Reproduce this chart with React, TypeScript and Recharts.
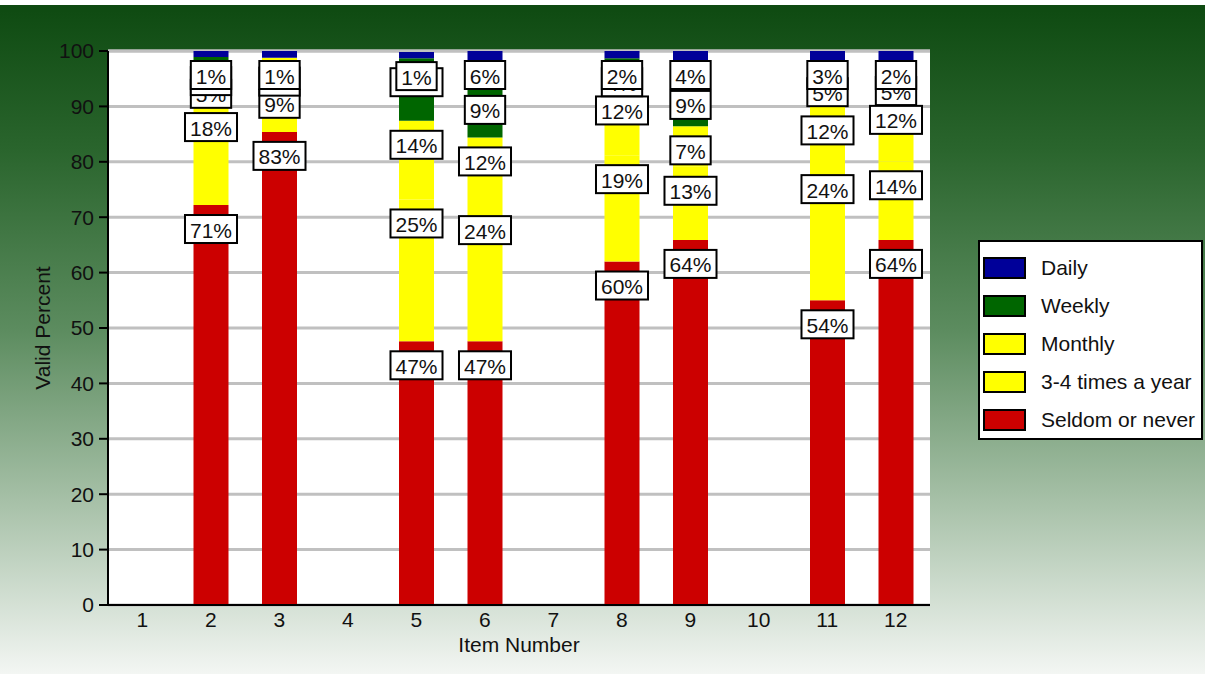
import { BarChart, Bar, XAxis, YAxis, CartesianGrid, Legend, LabelList, Label } from "recharts";

const items = ["1", "2", "3", "4", "5", "6", "7", "8", "9", "10", "11", "12"];

// segment heights (valid percent), bottom to top
const seldom = [0, 72.2, 85.4, 0, 47.6, 47.6, 0, 62, 65.9, 0, 55, 65.9];
const threeFour = [0, 18.4, 9.4, 0, 25.6, 24.4, 0, 19.2, 13.2, 0, 24.4, 14.2];
const monthly = [0, 6, 4, 0, 14.2, 12.4, 0, 12.4, 7.3, 0, 10.6, 11.8];
const weekly = [0, 2.3, 0, 0, 11.3, 9.3, 0, 5.1, 8.2, 0, 6.9, 5.2];
const daily = [0, 1.1, 1.2, 0, 1.1, 6.3, 0, 1.3, 5.4, 0, 3.1, 2.9];

// the printed labels
const seldomLbl = ["", "71%", "83%", "", "47%", "47%", "", "60%", "64%", "", "54%", "64%"];
const threeFourLbl = ["", "18%", "9%", "", "25%", "24%", "", "19%", "13%", "", "24%", "14%"];
const monthlyLbl = ["", "5%", "4%", "", "14%", "12%", "", "12%", "7%", "", "12%", "12%"];
const weeklyLbl = ["", "2%", "", "", "11%", "9%", "", "4%", "9%", "", "5%", "5%"];
const dailyLbl = ["", "1%", "1%", "", "1%", "6%", "", "2%", "4%", "", "3%", "2%"];

const yTicks = [0, 10, 20, 30, 40, 50, 60, 70, 80, 90, 100];

// legend reads top to bottom
const legendOrder = ["Daily", "Weekly", "Monthly", "3-4 times a year", "Seldom or never"];

const FONT = "'Liberation Sans', Arial, Helvetica, sans-serif";
const FS = 21;

const rows = items.map((item, i) => ({
  item,
  seldom: seldom[i],
  threeFour: threeFour[i],
  monthly: monthly[i],
  weekly: weekly[i],
  daily: daily[i],
  seldomLbl: seldomLbl[i],
  threeFourLbl: threeFourLbl[i],
  monthlyLbl: monthlyLbl[i],
  weeklyLbl: weeklyLbl[i],
  dailyLbl: dailyLbl[i],
}));

function textW(s: string) {
  let w = 0;
  for (const c of s) w += (c === "%" ? 0.889 : 0.556) * FS;
  return w;
}

function SegLabel(props: any) {
  const { x, y, width, value } = props;
  if (!value) return null;
  const text = String(value);
  const w = textW(text) + 10;
  const cx = Number(x) + Number(width) / 2;
  const top = Number(y) + 10;
  return (
    <g>
      <rect x={cx - w / 2} y={top} width={w} height={28} fill="#fff" stroke="#000" strokeWidth={2} />
      <text
        x={cx}
        y={top + 15}
        textAnchor="middle"
        dominantBaseline="central"
        fontSize={FS}
        fontFamily={FONT}
        fill="#111"
      >
        {text}
      </text>
    </g>
  );
}

function LegendBox({ payload }: any) {
  const list = legendOrder
    .map((name) => (payload || []).find((p: any) => p.value === name))
    .filter(Boolean);
  return (
    <div
      style={{
        background: "#fff",
        border: "2px solid #000",
        width: 225,
        height: 200,
        boxSizing: "border-box",
        padding: "7px 0 0 3px",
        fontFamily: FONT,
        fontSize: FS,
        color: "#111",
      }}
    >
      {list.map((p: any) => (
        <div key={p.value} style={{ display: "flex", alignItems: "center", height: 38 }}>
          <span
            style={{
              width: 43,
              height: 22,
              boxSizing: "border-box",
              background: p.color,
              border: "2px solid #000",
              marginRight: 15,
            }}
          />
          <span>{p.value}</span>
        </div>
      ))}
    </div>
  );
}

function YLabel({ viewBox }: any) {
  const cx = 42;
  const cy = viewBox.y + viewBox.height / 2;
  return (
    <text
      x={cx}
      y={cy}
      transform={`rotate(-90 ${cx} ${cy})`}
      textAnchor="middle"
      dominantBaseline="central"
      fontSize={FS}
      fontFamily={FONT}
      fill="#111"
    >
      Valid Percent
    </text>
  );
}

export default function App() {
  const tick = { fontSize: FS, fill: "#111", fontFamily: FONT };
  return (
    <div
      style={{
        width: 1205,
        height: 674,
        background:
          "linear-gradient(to bottom, #fff 0px, #fff 5px, #0e4a11 5px, #2a652d 150px, #5c8c5f 330px, #a6c0a7 500px, #f3f6f3 674px)",
      }}
    >
      <style>{"body{margin:0}"}</style>
      <BarChart
        width={1205}
        height={674}
        data={rows}
        margin={{ top: 51, right: 275, bottom: 39, left: 48 }}
        barSize={35}
      >
        <CartesianGrid vertical={false} stroke="#c0c0c0" strokeWidth={3} fill="#fff" fillOpacity={1} />
        <XAxis
          dataKey="item"
          height={30}
          tickLine={false}
          tickSize={5}
          tickMargin={2}
          axisLine={{ stroke: "#000", strokeWidth: 2 }}
          tick={tick}
          interval={0}
        >
          <Label value="Item Number" position="bottom" offset={2} style={{ fontSize: FS, fill: "#111", fontFamily: FONT }} />
        </XAxis>
        <YAxis
          width={60}
          domain={[0, 100]}
          ticks={yTicks}
          interval={0}
          tickSize={9}
          tickMargin={5}
          axisLine={{ stroke: "#000", strokeWidth: 2 }}
          tickLine={{ stroke: "#000", strokeWidth: 2 }}
          tick={tick}
          label={<YLabel />}
        />
        <Legend
          layout="vertical"
          align="center"
          verticalAlign="middle"
          content={<LegendBox />}
          wrapperStyle={{ left: 978, top: 240, width: 225, height: 200 }}
        />
        <Bar dataKey="seldom" name="Seldom or never" stackId="a" fill="#cc0000" isAnimationActive={false}>
          <LabelList dataKey="seldomLbl" content={<SegLabel />} />
        </Bar>
        <Bar dataKey="threeFour" name="3-4 times a year" stackId="a" fill="#ffff00" isAnimationActive={false}>
          <LabelList dataKey="threeFourLbl" content={<SegLabel />} />
        </Bar>
        <Bar dataKey="monthly" name="Monthly" stackId="a" fill="#ffff00" isAnimationActive={false}>
          <LabelList dataKey="monthlyLbl" content={<SegLabel />} />
        </Bar>
        <Bar dataKey="weekly" name="Weekly" stackId="a" fill="#006600" isAnimationActive={false}>
          <LabelList dataKey="weeklyLbl" content={<SegLabel />} />
        </Bar>
        <Bar dataKey="daily" name="Daily" stackId="a" fill="#000099" isAnimationActive={false}>
          <LabelList dataKey="dailyLbl" content={<SegLabel />} />
        </Bar>
      </BarChart>
    </div>
  );
}
